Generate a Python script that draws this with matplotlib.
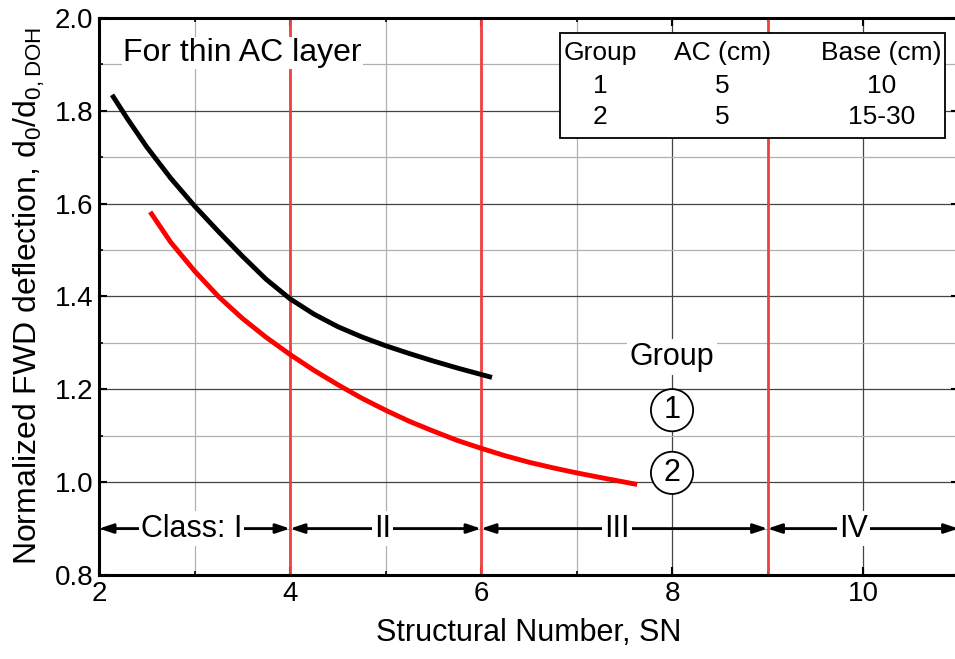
import matplotlib.pyplot as plt
from matplotlib.ticker import MultipleLocator

plt.rcParams['font.family'] = ['Liberation Sans', 'DejaVu Sans']
plt.rcParams['mathtext.fontset'] = 'custom'
plt.rcParams['mathtext.rm'] = 'Liberation Sans'
plt.rcParams['mathtext.it'] = 'Liberation Sans'

# group 1 (black) and group 2 (red) curves
sn_g1 = [2.15, 2.3, 2.5, 2.75, 3.0, 3.25, 3.5, 3.75, 4.0, 4.25, 4.5, 4.75,
         5.0, 5.25, 5.5, 5.75, 6.0, 6.09]
d_g1 = [1.83, 1.782, 1.722, 1.655, 1.595, 1.54, 1.487, 1.437, 1.395, 1.362, 1.335, 1.313,
        1.294, 1.277, 1.261, 1.246, 1.232, 1.227]
sn_g2 = [2.55, 2.75, 3.0, 3.25, 3.5, 3.75, 4.0, 4.25, 4.5, 4.75, 5.0, 5.25, 5.5,
         5.75, 6.0, 6.25, 6.5, 6.75, 7.0, 7.3, 7.61]
d_g2 = [1.578, 1.517, 1.455, 1.40, 1.353, 1.312, 1.275, 1.241, 1.21, 1.181, 1.155, 1.131, 1.11,
        1.09, 1.073, 1.057, 1.043, 1.031, 1.02, 1.008, 0.996]

class_bounds = [2, 4, 6, 9, 11]
class_labels = ['Class: I', 'II', 'III', 'IV']
class_label_x = [2.97, 4.97, 7.42, 9.9]

table_rows = [['Group', 'AC (cm)', 'Base (cm)'],
              ['1', '5', '10'],
              ['2', '5', '15-30']]

fig = plt.figure(figsize=(9.55, 6.59), dpi=100)
ax = fig.add_axes([0.1037, 0.1275, 0.9, 0.8452])

ax.set_xlim(2, 11)
ax.set_ylim(0.8, 2.0)
ax.xaxis.set_major_locator(MultipleLocator(2))
ax.xaxis.set_minor_locator(MultipleLocator(1))
ax.yaxis.set_major_locator(MultipleLocator(0.2))
ax.yaxis.set_minor_locator(MultipleLocator(0.1))
ax.yaxis.set_major_formatter(plt.FormatStrFormatter('%.1f'))
ax.grid(which='major', color='#444444', lw=0.9)
ax.grid(which='minor', color='#b0b0b0', lw=0.9)
ax.set_axisbelow(True)
ax.tick_params(which='both', direction='in', top=True, right=True, labelsize=20)
ax.tick_params(which='major', length=6, width=1.5, pad=4)
ax.tick_params(which='minor', length=3, width=1.2)
for s in ax.spines.values():
    s.set_linewidth(2.2)

for xv in class_bounds[1:4]:
    ax.axvline(xv, color='#f04040', lw=2, zorder=2)

ax.plot(sn_g1, d_g1, color='black', lw=3.5, zorder=3, solid_joinstyle='round')
ax.plot(sn_g2, d_g2, color='red', lw=3.5, zorder=3, solid_joinstyle='round')

for i in range(4):
    ax.annotate('', xy=(class_bounds[i], 0.9), xytext=(class_bounds[i + 1], 0.9),
                arrowprops=dict(arrowstyle='<|-|>,head_length=0.6,head_width=0.2', color='black',
                                lw=2, shrinkA=0, shrinkB=0, mutation_scale=14))
    ax.text(class_label_x[i], 0.9, class_labels[i], ha='center', va='center', fontsize=22,
            bbox=dict(facecolor='white', edgecolor='none', pad=1.5), zorder=5)

ax.text(2.25, 1.925, 'For thin AC layer', fontsize=23, ha='left', va='center',
        bbox=dict(facecolor='white', edgecolor='none', pad=1))

ax.text(8.0, 1.27, 'Group', fontsize=22, ha='center', va='center',
        bbox=dict(facecolor='white', edgecolor='none', pad=2))
ax.text(8.0, 1.155, '1', fontsize=22, ha='center', va='center',
        bbox=dict(boxstyle='circle,pad=0.2', facecolor='white', edgecolor='black', lw=1.3))
ax.text(8.0, 1.02, '2', fontsize=22, ha='center', va='center',
        bbox=dict(boxstyle='circle,pad=0.2', facecolor='white', edgecolor='black', lw=1.3))

# table box
ax.add_patch(plt.Rectangle((6.83, 1.741), 4.03, 0.227, facecolor='white',
                           edgecolor='black', lw=1.3, zorder=6))
col_x = [7.25, 8.53, 10.19]
row_y = [1.925, 1.853, 1.786]
for r, row in enumerate(table_rows):
    for c, txt in enumerate(row):
        ax.text(col_x[c], row_y[r], txt, fontsize=19, ha='center', va='center', zorder=7)

ax.set_xlabel('Structural Number, SN', fontsize=22, labelpad=8)
ax.set_ylabel(r'Normalized FWD deflection, d$_0$/d$_{0,\mathrm{DOH}}$', fontsize=23, labelpad=6)

fig.savefig('out.png', dpi=100)
